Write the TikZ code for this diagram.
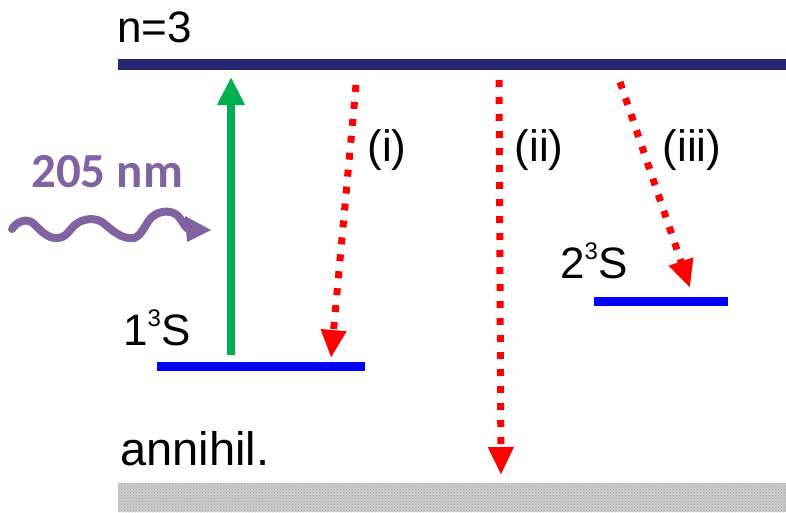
\documentclass[tikz,border=0pt]{standalone}
\usepackage{fontspec}
\setmainfont{Liberation Sans}
\newfontfamily\calib{Carlito}
\usetikzlibrary{arrows.meta,patterns}
\definecolor{navy}{RGB}{38,38,115}
\definecolor{lvlblue}{RGB}{0,0,255}
\definecolor{pgreen}{RGB}{0,176,80}
\definecolor{ppurple}{RGB}{128,100,162}
\begin{document}
\begin{tikzpicture}[x=1pt,y=-1pt,
  lbl/.style={inner sep=0pt,anchor=base west,font=\fontsize{44}{50}\selectfont},
  plbl/.style={inner sep=0pt,anchor=center,font=\fontsize{44}{50}\selectfont},
  level/.style={line width=9pt,lvlblue},
  decay/.style={red,line width=7pt,dash pattern=on 7pt off 10pt,-{Triangle[length=28pt,width=24pt]}},
  excite/.style={pgreen,line width=8pt,-{Triangle[length=28pt,width=26pt]}}]
\useasboundingbox (0,0) rectangle (786,512);
% levels
\draw[navy,line width=11pt] (118,64.5) -- (786,64.5);
\draw[level] (157,366) -- (365,366);
\draw[level] (594,301) -- (728,301);
% annihilation bar
\fill[gray!40] (118,483) rectangle (786,512);
\fill[pattern=crosshatch dots,pattern color=gray!75] (118,483) rectangle (786,512);
% labels
\node[lbl] (n3) at (117,42) {n=3};
\node[lbl] (s1) at (123,345) {1\raisebox{0.42em}{\fontsize{24}{26}\selectfont 3}S};
\node[lbl] (s2) at (560,278) {2\raisebox{0.42em}{\fontsize{24}{26}\selectfont 3}S};
\node[lbl,font=\fontsize{47}{52}\selectfont] (ann) at (120,465) {annihil.};
\node[plbl] (li) at (387,150) {(i)};
\node[plbl] (lii) at (539,150) {(ii)};
\node[plbl] (liii) at (692,150) {(iii)};
\node[inner sep=0pt,anchor=base west,text=ppurple,font=\calib\bfseries\fontsize{49}{54}\selectfont] (nm) at (31,187) {205 nm};
% arrow endpoints
\coordinate (g0) at (231,355);
\coordinate (g1) at (231,77);
\coordinate (a0) at (356,85);
\coordinate (a1) at (331,358);
\coordinate (b0) at (499,80);
\coordinate (b1) at (501,475);
\coordinate (c0) at (620,82);
\coordinate (c1) at (690,288);
\draw[excite] (g0) -- (g1);
\draw[decay] (a0) -- (a1);
\draw[decay] (b0) -- (b1);
\draw[decay] (c0) -- (c1);
% photon
\coordinate (w0) at (12,229);
\coordinate (w1) at (211,230);
\draw[ppurple,line width=8pt,line cap=round,line join=round]
  (w0) .. controls (18,220) and (28,218) .. (34,224)
  .. controls (42,232) and (48,238) .. (56,238)
  .. controls (66,238) and (68,232) .. (72,228)
  .. controls (78,220) and (92,216) .. (102,222)
  .. controls (112,230) and (122,240) .. (134,238)
  .. controls (142,236) and (146,222) .. (152,217)
  .. controls (160,210) and (172,210) .. (178,216)
  .. controls (182,220) and (184,226) .. (188,229);
\fill[ppurple] (w1) -- (185,216) -- (187,242) -- cycle;
\end{tikzpicture}
\end{document}
